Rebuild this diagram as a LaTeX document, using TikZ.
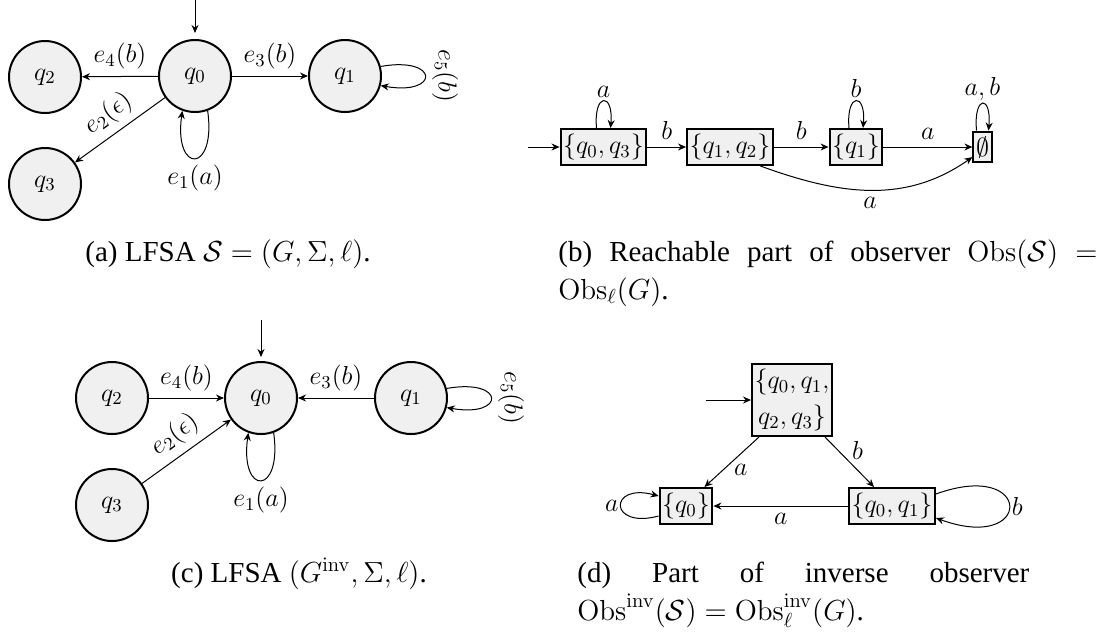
\RequirePackage{fix-cm}
\documentclass[tikz,border=0pt]{standalone}
\usepackage[no-math]{fontspec}
\setmainfont{Liberation Serif}
\usetikzlibrary{arrows.meta}
\tikzset{
  st/.style={circle, draw, line width=1pt, fill=black!6, minimum size=36pt, inner sep=0pt, font=\fontsize{13}{15}\selectfont},
  bx/.style={rectangle, draw, line width=1pt, fill=black!6, inner xsep=1.3pt, inner ysep=2.5pt, font=\fontsize{13}{15}\selectfont},
  tr/.style={-{Stealth[length=4pt,width=3.5pt]}, line width=0.5pt},
  lab/.style={font=\fontsize{13}{15}\selectfont},
  captxt/.style={font=\fontsize{14.5}{17.5}\selectfont, inner sep=0pt},
}
\begin{document}
\begin{tikzpicture}[x=0.5pt,y=-0.5pt]
\useasboundingbox (0,0) rectangle (1108,634);
% ---------- (a)
\node[st] (a0) at (195,76) {$q_0$};
\node[st] (a2) at (45,77) {$q_2$};
\node[st] (a1) at (345,76) {$q_1$};
\node[st] (a3) at (45,184) {$q_3$};
\coordinate (ai) at (195,0);
\draw[tr, shorten >=3pt] (ai) -- (a0);
\draw[tr] (a0) -- node[lab,above]{$e_4(b)$} (a2);
\draw[tr] (a0) -- node[lab,above]{$e_3(b)$} (a1);
\draw[tr] (a0) -- node[lab,above,sloped]{$e_2(\epsilon)$} (a3);
\draw[tr] (a0.-70) .. controls +(-82:32pt) and +(-98:32pt) .. node[lab,below]{$e_1(a)$} (a0.-110);
\draw[tr] (a1.15) .. controls +(10:30pt) and +(-10:30pt) .. node[lab,rotate=-90,anchor=south]{$e_5(b)$} (a1.-15);
\node[captxt, anchor=base] (capa) at (228,261) {(a) LFSA $\mathcal{S}=(G,\Sigma,\ell)$.};
% ---------- (b)
\node[bx] (b1) at (603.5,147) {$\{q_0,q_3\}$};
\node[bx] (b2) at (730,147) {$\{q_1,q_2\}$};
\node[bx] (b3) at (856,147) {$\{q_1\}$};
\node[bx] (b4) at (982.5,147) {$\emptyset$};
\coordinate (bi) at (528,147);
\draw[tr] (bi) -- (b1);
\draw[tr] (b1) -- node[lab,above]{$b$} (b2);
\draw[tr] (b2) -- node[lab,above]{$b$} (b3);
\draw[tr] (b3) -- node[lab,above]{$a$} (b4);
\draw[tr] (b2.-32) to[out=-20,in=-145] node[lab,below]{$a$} (b4.-135);
\draw[tr] ([xshift=-3.5pt]b1.north) .. controls +(95:18pt) and +(85:18pt) .. node[lab,above,inner sep=1.5pt]{$a$} ([xshift=3.5pt]b1.north);
\draw[tr] ([xshift=-3.5pt]b3.north) .. controls +(95:18pt) and +(85:18pt) .. node[lab,above,inner sep=1.5pt]{$b$} ([xshift=3.5pt]b3.north);
\draw[tr] ([xshift=-3pt]b4.north) .. controls +(95:18pt) and +(85:18pt) .. node[lab,above,inner sep=1.5pt]{$a,b$} ([xshift=3pt]b4.north);
\node[captxt, anchor=base west] (capb1) at (558,261) {\makebox[269.5pt][s]{(b) Reachable part of observer $\mathrm{Obs}(\mathcal{S})$ $=$}};
\node[captxt, anchor=base west] (capb2) at (558,299) {$\mathrm{Obs}_\ell(G)$.};
% ---------- (c)
\node[st] (c0) at (261,398) {$q_0$};
\node[st] (c2) at (112,398) {$q_2$};
\node[st] (c1) at (411,398) {$q_1$};
\node[st] (c3) at (112,505) {$q_3$};
\coordinate (ci) at (261,320);
\draw[tr, shorten >=2pt] (ci) -- (c0);
\draw[tr] (c2) -- node[lab,above]{$e_4(b)$} (c0);
\draw[tr] (c1) -- node[lab,above]{$e_3(b)$} (c0);
\draw[tr] (c3) -- node[lab,above,sloped]{$e_2(\epsilon)$} (c0);
\draw[tr] (c0.-70) .. controls +(-82:32pt) and +(-98:32pt) .. node[lab,below]{$e_1(a)$} (c0.-110);
\draw[tr] (c1.15) .. controls +(10:30pt) and +(-10:30pt) .. node[lab,rotate=-90,anchor=south]{$e_5(b)$} (c1.-15);
\node[captxt, anchor=base] (capc) at (299,582) {(c) LFSA $(G^{\mathrm{inv}},\Sigma,\ell)$.};
% ---------- (d)
\node[bx, align=center, font=\fontsize{13}{18}\selectfont] (d0) at (792,400) {$\{q_0,q_1,$\\$q_2,q_3\}$};
\node[bx] (d1) at (686,506) {$\{q_0\}$};
\node[bx] (d2) at (892,506) {$\{q_0,q_1\}$};
\coordinate (di) at (706,400);
\draw[tr] (di) -- (d0);
\draw[tr] ([xshift=4pt]d0.south west) -- node[lab,below right,inner sep=1pt]{$a$} ([xshift=-4.5pt]d1.north east);
\draw[tr] ([xshift=-4pt]d0.south east) -- node[lab,above right,inner sep=1pt]{$b$} ([xshift=13pt]d2.north west);
\draw[tr] (d2) -- node[lab,below]{$a$} (d1);
\draw[tr] ([yshift=-5pt]d1.west) .. controls +(195:26pt) and +(165:26pt) .. node[lab,left,inner sep=1pt]{$a$} ([yshift=5pt]d1.west);
\draw[tr] ([yshift=6pt]d2.east) .. controls +(20:52pt) and +(-20:52pt) .. node[lab,right,inner sep=1pt]{$b$} ([yshift=-6pt]d2.east);
\node[captxt, anchor=base west] (capd1) at (577,582) {\makebox[226pt][s]{(d) Part of inverse observer}};
\node[captxt, anchor=base west] (capd2) at (577,620) {$\mathrm{Obs}^{\mathrm{inv}}(\mathcal{S})=\mathrm{Obs}^{\mathrm{inv}}_\ell(G)$.};
\end{tikzpicture}
\end{document}
